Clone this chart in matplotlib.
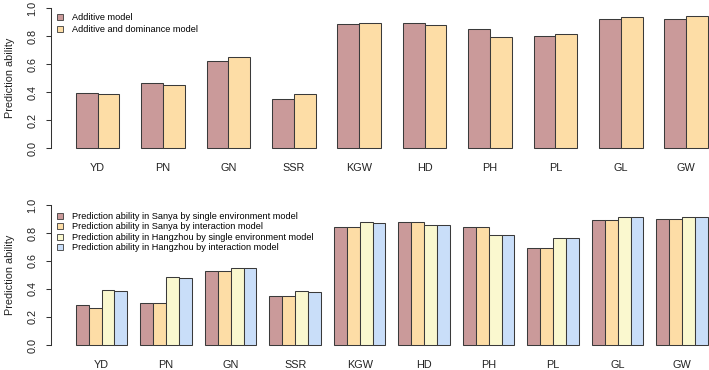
import matplotlib
matplotlib.use("Agg")
import matplotlib.pyplot as plt
from matplotlib.patches import Patch
import numpy as np

plt.rcParams['font.family'] = ['Liberation Sans', 'DejaVu Sans']

traits = ["YD", "PN", "GN", "SSR", "KGW", "HD", "PH", "PL", "GL", "GW"]

additive = [0.393, 0.464, 0.626, 0.350, 0.886, 0.893, 0.855, 0.802, 0.921, 0.926]
add_dom = [0.386, 0.455, 0.652, 0.388, 0.895, 0.879, 0.795, 0.814, 0.936, 0.943]

sanya_single = [0.286, 0.298, 0.529, 0.350, 0.843, 0.881, 0.843, 0.693, 0.893, 0.900]
sanya_inter = [0.267, 0.298, 0.526, 0.350, 0.843, 0.881, 0.843, 0.693, 0.893, 0.900]
hz_single = [0.390, 0.483, 0.548, 0.383, 0.879, 0.857, 0.788, 0.762, 0.917, 0.914]
hz_inter = [0.383, 0.476, 0.548, 0.376, 0.874, 0.857, 0.783, 0.762, 0.917, 0.914]

top_labels = ["Additive model", "Additive and dominance model"]
bottom_labels = [
    "Prediction ability in Sanya by single environment model",
    "Prediction ability in Sanya by interaction model",
    "Prediction ability in Hangzhou by single environment model",
    "Prediction ability in Hangzhou by interaction model",
]
yticks = [0.0, 0.2, 0.4, 0.6, 0.8, 1.0]
ylabel = "Prediction ability"

colors = ["#CA9A9A", "#FDDDA6", "#FAF8CF", "#C9DEF9"]
edge = "#3a3a3a"

W, H = 709, 370
fig = plt.figure(figsize=(W / 100, H / 100), dpi=100)

def px_axes(left, right, top, bottom):
    return fig.add_axes([left / W, 1 - bottom / H, (right - left) / W, (bottom - top) / H])

def style(ax, ncat, nser):
    per = nser + 1
    ax.set_ylim(-0.04, 1.04)
    xmax = ncat * per
    ext = 0.04 * (xmax - 1)
    ax.set_xlim(1 - ext, xmax + ext)
    for s in ["top", "right", "bottom"]:
        ax.spines[s].set_visible(False)
    ax.spines["left"].set_bounds(0, 1)
    ax.spines["left"].set_linewidth(0.75)
    ax.spines["left"].set_color("#333333")
    ax.set_yticks(yticks)
    ax.set_yticklabels([f"{t:.1f}" for t in yticks], rotation=90, va="center",
                       fontsize=7.8, color="#222222")
    ax.tick_params(axis="y", length=3.8, width=0.75, pad=5.5, color="#333333")
    centers = [1 + per * i + nser / 2 for i in range(ncat)]
    ax.set_xticks(centers)
    ax.set_xticklabels(traits, fontsize=7.8, color="#222222")
    ax.tick_params(axis="x", length=0, pad=6.5)
    ax.set_facecolor("none")

# Top panel
ax1 = px_axes(50.5, 733.3, 2.7, 153.9)
series_top = [additive, add_dom]
nser = len(series_top)
for j, vals in enumerate(series_top):
    x = [1 + (nser + 1) * i + j for i in range(len(traits))]
    ax1.bar(x, vals, width=1.0, align="edge", color=colors[j], edgecolor=edge, linewidth=0.75)
style(ax1, len(traits), nser)
h1 = [Patch(facecolor=colors[j], edgecolor=edge, linewidth=0.6) for j in range(2)]
ax1.legend(h1, top_labels, loc="upper left", bbox_to_anchor=(57.3 / W, 1 - 13.3 / H),
           bbox_transform=fig.transFigure, frameon=False, fontsize=6.6,
           handlelength=0.65, handleheight=0.65, handletextpad=0.95,
           labelspacing=0.3, borderpad=0, borderaxespad=0)

# Bottom panel
ax2 = px_axes(50.5, 733.3, 199.4, 350.6)
series_bot = [sanya_single, sanya_inter, hz_single, hz_inter]
nser = len(series_bot)
for j, vals in enumerate(series_bot):
    x = [1 + (nser + 1) * i + j for i in range(len(traits))]
    ax2.bar(x, vals, width=1.0, align="edge", color=colors[j], edgecolor=edge, linewidth=0.75)
style(ax2, len(traits), nser)
h2 = [Patch(facecolor=colors[j], edgecolor=edge, linewidth=0.6) for j in range(4)]
ax2.legend(h2, bottom_labels, loc="upper left", bbox_to_anchor=(57.3 / W, 1 - 211.8 / H),
           bbox_transform=fig.transFigure, frameon=False, fontsize=6.6,
           handlelength=0.65, handleheight=0.65, handletextpad=0.95,
           labelspacing=0.17, borderpad=0, borderaxespad=0)

fig.text(10 / W, 1 - 78.3 / H, ylabel, rotation=90, ha="center", va="center",
         fontsize=7.8, color="#222222")
fig.text(10 / W, 1 - 275 / H, ylabel, rotation=90, ha="center", va="center",
         fontsize=7.8, color="#222222")

fig.savefig("out.png", dpi=100)
